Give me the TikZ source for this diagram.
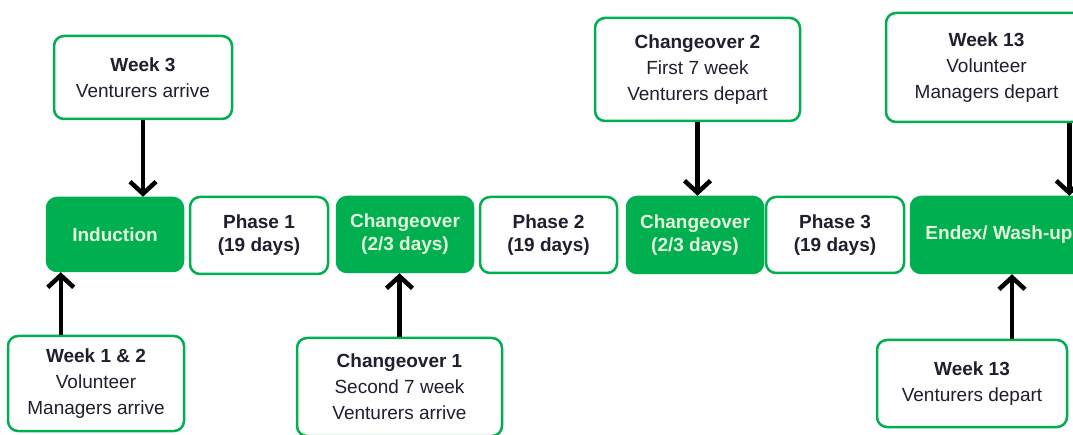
\documentclass[tikz,border=0pt]{standalone}
\usepackage{fontspec}
\setmainfont{Liberation Sans}
\usetikzlibrary{arrows.meta}
\definecolor{tlgreen}{HTML}{00B050}
\definecolor{tltext}{HTML}{1F1F2E}
\definecolor{tllight}{HTML}{E4F5DC}
\tikzset{%
    >={Straight Barb[length=12pt,width=26pt]},
    box/.style={rounded corners=10pt, line width=2.5pt, draw=tlgreen, align=center, inner sep=0pt, text=tltext},
    phasebox/.style={box, fill=white, font=\fontsize{19}{23}\selectfont\bfseries},
    greenbox/.style={box, fill=tlgreen, text=tllight, font=\fontsize{19}{23}\selectfont\bfseries},
    callout/.style={box, fill=white, font=\fontsize{19}{26}\selectfont},
    arr/.style={->, line width=4.5pt}
}

\begin{document}
\begin{tikzpicture}[x=1pt,y=-1pt]
        \useasboundingbox (0,0) rectangle (1073,435);
        \clip (0,0) rectangle (1073,435);

        \node[greenbox, minimum width=136, minimum height=73] (induction) at (115,234.5) {Induction};
        \node[phasebox, minimum width=138, minimum height=77] (phaseone) at (259,235.5) {Phase 1\\(19 days)};
        \node[greenbox, minimum width=136, minimum height=75] (changea) at (405,234.5) {Changeover\\(2/3 days)};
        \node[phasebox, minimum width=137, minimum height=76] (phasetwo) at (548.5,235) {Phase 2\\(19 days)};
        \node[greenbox, minimum width=136, minimum height=76] (changeb) at (695,235) {Changeover\\(2/3 days)};
        \node[phasebox, minimum width=138, minimum height=76] (phasethree) at (835,235) {Phase 3\\(19 days)};
        \node[greenbox, minimum width=176, minimum height=76] (endex) at (999,235) {Endex/ Wash-up};

        \node[callout, minimum width=178, minimum height=83] (weekthree) at (143,77.5) {\textbf{Week 3}\\Venturers arrive};
        \node[callout, minimum width=205, minimum height=103] (changetwo) at (697.5,69.5) {\textbf{Changeover 2}\\First 7 week\\Venturers depart};
        \node[callout, minimum width=201, minimum height=109] (weekend) at (986.5,67.5) {\textbf{Week 13}\\Volunteer\\Managers depart};

        \node[callout, minimum width=176, minimum height=95] (weekone) at (96,383.5) {\textbf{Week 1 \& 2}\\Volunteer\\Managers arrive};
        \node[callout, minimum width=205, minimum height=98] (changeone) at (399.5,387) {\textbf{Changeover 1}\\Second 7 week\\Venturers arrive};
        \node[callout, minimum width=190, minimum height=87] (weekleave) at (972,383.5) {\textbf{Week 13}\\Venturers depart};

        \draw[arr] (weekthree.south) -- (weekthree.south |- induction.north);
        \draw[arr] ([xshift=15]induction.west |- weekone.north) -- ([xshift=15]induction.south west);
        \draw[arr] (changeone.north) -- (changeone.north |- changea.south);
        \draw[arr] (changetwo.south) -- (changetwo.south |- changeb.north);
        \draw[arr] ([xshift=-19]weekend.south east) -- ([xshift=-19]weekend.south east |- endex.north);
        \draw[arr] ([xshift=40]weekleave.north) -- ([xshift=40]weekleave.north |- endex.south);
    \end{tikzpicture}
\end{document}
